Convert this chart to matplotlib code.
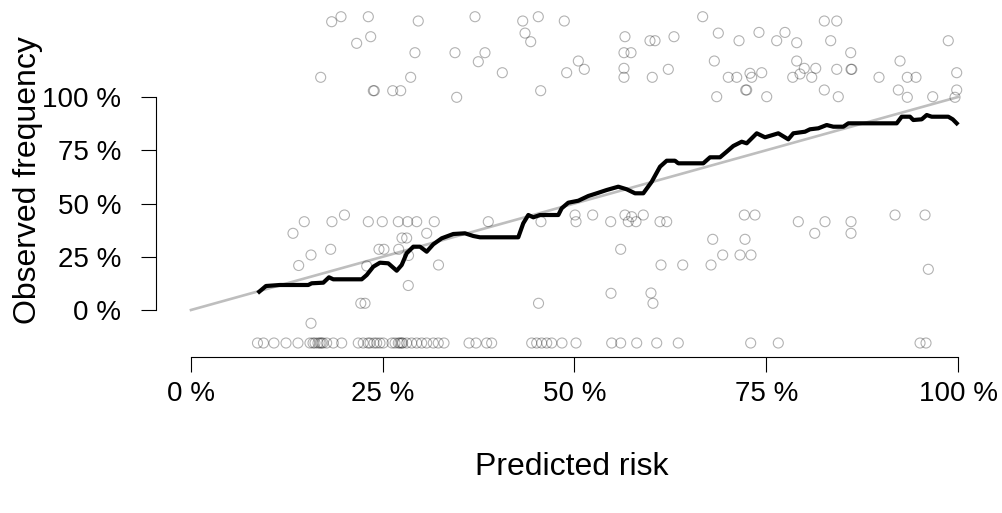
import numpy as np
import matplotlib
matplotlib.use("Agg")
from matplotlib import pyplot as plt

plt.rcParams['font.family'] = ['Liberation Sans', 'DejaVu Sans']

# jittered observations: predicted risk vs observed value
obs_x = [0.1834, 0.1956, 0.2312, 0.2963, 0.2160, 0.2343, 0.2920, 0.1691, 0.2864, 0.2377, 0.2390,
         0.2630, 0.2734, 0.3703, 0.4325, 0.4528, 0.4867, 0.4355, 0.4429, 0.6671, 0.3442, 0.3833,
         0.3746, 0.4059, 0.3464, 0.4559, 0.4898, 0.5050, 0.5128, 0.5658, 0.5645, 0.5737, 0.5645,
         0.5645, 0.5984, 0.6050, 0.6297, 0.6014, 0.6223, 0.6875, 0.7145, 0.7405, 0.7636, 0.7744,
         0.7897, 0.8257, 0.8419, 0.8340, 0.8601, 0.9873, 0.6823, 0.7005, 0.7115, 0.7288, 0.7441,
         0.7310, 0.7232, 0.7245, 0.6854, 0.7506, 0.7897, 0.7845, 0.7940, 0.7996, 0.8093, 0.8145,
         0.8257, 0.8439, 0.8419, 0.8605, 0.8615, 0.8970, 0.9244, 0.9339, 0.9452, 0.9222, 0.9339,
         0.9670, 0.9983, 0.9983, 0.9961,
         0.1330, 0.1477, 0.1838, 0.2001, 0.2312, 0.2494, 0.2703, 0.2825, 0.2943, 0.3172, 0.3073,
         0.2751, 0.2812, 0.1565, 0.1404, 0.1821, 0.2451, 0.2516, 0.2708, 0.2836, 0.3227, 0.2291,
         0.2833, 0.2214, 0.2269, 0.1565, 0.3876, 0.4531, 0.4563, 0.5007, 0.5020, 0.5237, 0.5472,
         0.5658, 0.5701, 0.5746, 0.5802, 0.5897, 0.6115, 0.6202, 0.5602, 0.6128, 0.6411, 0.5476,
         0.5997, 0.6023, 0.6802, 0.6780, 0.6932, 0.7158, 0.7301, 0.7223, 0.7214, 0.7353, 0.7918,
         0.8132, 0.8266, 0.8605, 0.8605, 0.9179, 0.9570, 0.9613]
obs_y = [1.3535, 1.3770, 1.3770, 1.3568, 1.2521, 1.2831, 1.2080, 1.0925, 1.0925, 1.0296, 1.0296,
         1.0296, 1.0296, 1.3770, 1.3568, 1.3770, 1.3568, 1.3000, 1.2596, 1.3770, 1.2080, 1.2080,
         1.1657, 1.1141, 0.9986, 1.0296, 1.1141, 1.1690, 1.1300, 1.2831, 1.2080, 1.2080, 1.1347,
         1.0925, 1.2643, 1.2643, 1.2831, 1.0925, 1.1300, 1.3000, 1.2643, 1.3033, 1.2643, 1.3033,
         1.2549, 1.3568, 1.3568, 1.2643, 1.2080, 1.2643, 1.1690, 1.0925, 1.0925, 1.1113, 1.1141,
         1.0925, 1.0329, 1.0329, 1.0014, 1.0014, 1.1690, 1.0925, 1.1080, 1.1347, 1.0925, 1.1347,
         1.0329, 1.0014, 1.1300, 1.1300, 1.1300, 1.0925, 1.1690, 1.0925, 1.0925, 1.0329, 0.9986,
         1.0014, 1.1141, 1.0329, 0.9986,
         0.3601, 0.4146, 0.4146, 0.4460, 0.4146, 0.4146, 0.4146, 0.4146, 0.4146, 0.4146, 0.3601,
         0.3380, 0.3380, 0.2582, 0.2089, 0.2850, 0.2850, 0.2850, 0.2850, 0.2559, 0.2113, 0.2066,
         0.1150, 0.0315, 0.0315, -0.0624, 0.4146, 0.0315, 0.4146, 0.4460, 0.4146, 0.4460, 0.4146,
         0.4460, 0.4146, 0.4380, 0.4146, 0.4460, 0.4146, 0.4146, 0.2850, 0.2113, 0.2113, 0.0784,
         0.0798, 0.0315, 0.3319, 0.2113, 0.2582, 0.2582, 0.2582, 0.3319, 0.4460, 0.4460, 0.4146,
         0.3601, 0.4146, 0.4146, 0.3601, 0.4460, 0.4460, 0.1911]

# predicted risks of the rug row below the curve
rug_x = [0.0867, 0.0945, 0.1082, 0.1239, 0.1395, 0.1551, 0.1591, 0.1617, 0.1656, 0.1682, 0.1700,
         0.1721, 0.1769, 0.1855, 0.1965, 0.2181, 0.2246, 0.2308, 0.2334, 0.2386, 0.2421, 0.2464,
         0.2507, 0.2621, 0.2660, 0.2703, 0.2725, 0.2747, 0.2760, 0.2812, 0.2877, 0.2943, 0.3008,
         0.3073, 0.3159, 0.3224, 0.3299, 0.3625, 0.3716, 0.3855, 0.3920, 0.4442, 0.4507, 0.4572,
         0.4638, 0.4703, 0.4837, 0.5020, 0.5485, 0.5602, 0.5811, 0.6072, 0.6353, 0.7297, 0.7657,
         0.9505, 0.9583]
rug_level = -0.155

# smoothed calibration curve
curve_x = [0.0890, 0.0978, 0.1160, 0.1529, 0.1574, 0.1725, 0.1799, 0.1855, 0.2226, 0.2291,
           0.2377, 0.2464, 0.2572, 0.2682, 0.2747, 0.2812, 0.2898, 0.2986, 0.3073, 0.3159,
           0.3269, 0.3420, 0.3572, 0.3681, 0.3768, 0.4267, 0.4332, 0.4398, 0.4463, 0.4550,
           0.4789, 0.4833, 0.4919, 0.5050, 0.5180, 0.5290, 0.5420, 0.5571, 0.5681, 0.5789,
           0.5897, 0.6007, 0.6115, 0.6202, 0.6310, 0.6353, 0.6679, 0.6767, 0.6897, 0.6984,
           0.7070, 0.7180, 0.7245, 0.7376, 0.7484, 0.7657, 0.7787, 0.7853, 0.8005, 0.8070,
           0.8179, 0.8288, 0.8374, 0.8505, 0.8570, 0.9201, 0.9266, 0.9374, 0.9417, 0.9527,
           0.9592, 0.9657, 0.9873, 0.9931, 0.9983]
curve_y = [0.0859, 0.1127, 0.1174, 0.1174, 0.1254, 0.1282, 0.1535, 0.1441, 0.1441, 0.1643,
           0.2033, 0.2221, 0.2192, 0.1845, 0.2113, 0.2662, 0.2972, 0.2972, 0.2737, 0.3085,
           0.3366, 0.3568, 0.3601, 0.3474, 0.3413, 0.3413, 0.4070, 0.4460, 0.4352, 0.4460,
           0.4460, 0.4775, 0.5038, 0.5131, 0.5352, 0.5479, 0.5634, 0.5789, 0.5667, 0.5479,
           0.5479, 0.6023, 0.6728, 0.7009, 0.7009, 0.6887, 0.6887, 0.7169, 0.7169, 0.7432,
           0.7700, 0.7901, 0.7826, 0.8296, 0.8108, 0.8296, 0.8014, 0.8296, 0.8371, 0.8484,
           0.8531, 0.8685, 0.8606, 0.8606, 0.8765, 0.8765, 0.9075, 0.9075, 0.8920, 0.8953,
           0.9155, 0.9075, 0.9075, 0.8953, 0.8765]

ticks = [0, 0.25, 0.5, 0.75, 1]
tick_labels = ['0 %', '25 %', '50 %', '75 %', '100 %']

fig = plt.figure(figsize=(10.02, 5.13), dpi=100)
W, H = 1002, 513
ax = fig.add_axes([156 / W, 1 - 357 / H, (989 - 156) / W, (357 - 5) / H])

ax.plot([0, 1], [0, 1], color='#BEBEBE', lw=1.9, zorder=1)
ax.scatter(obs_x, obs_y, s=52, facecolors='none', edgecolors=(0, 0, 0, 0.3), linewidths=0.8, zorder=2)
ax.scatter(rug_x, [rug_level] * len(rug_x), s=52, facecolors='none',
           edgecolors=(0, 0, 0, 0.3), linewidths=0.8, zorder=2)
ax.plot(curve_x, curve_y, color='black', lw=3, solid_joinstyle='round', zorder=3)

ax.set_xlim(-0.0456, 1.0404)
ax.set_ylim(-0.2207, 1.432)
for s in ['top', 'right']:
    ax.spines[s].set_visible(False)
ax.spines['left'].set_bounds(0, 1)
ax.spines['bottom'].set_bounds(0, 1)
for s in ['left', 'bottom']:
    ax.spines[s].set_linewidth(0.8)

ax.set_xticks(ticks)
ax.set_xticklabels(tick_labels)
ax.set_yticks(ticks)
ax.set_yticklabels(tick_labels)
ax.tick_params(axis='both', length=11, width=0.8, labelsize=20, colors='black')
ax.tick_params(axis='y', pad=14)
ax.tick_params(axis='x', pad=6)

fig.text(572 / W, 1 - 467 / H, 'Predicted risk', ha='center', va='center', fontsize=23)
fig.text(28 / W, 1 - 180 / H, 'Observed frequency', ha='center', va='center',
         rotation=90, fontsize=23)

fig.savefig('out.png', dpi=100)
